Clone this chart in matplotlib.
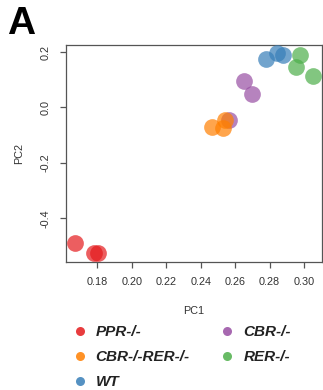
import matplotlib
matplotlib.use("Agg")
import matplotlib.pyplot as plt
from matplotlib.lines import Line2D

plt.rcParams['font.family'] = ['Liberation Sans', 'DejaVu Sans']

groups = ["PPR-/-", "CBR-/-RER-/-", "WT", "CBR-/-", "RER-/-"]
colors = ["#E41A1C", "#FF7F00", "#377EB8", "#984EA3", "#4DAF4A"]
pc1 = {
    "PPR-/-": [0.1671, 0.1783, 0.1806],
    "CBR-/-": [0.2566, 0.2652, 0.2698],
    "CBR-/-RER-/-": [0.2466, 0.2531, 0.2543],
    "WT": [0.2779, 0.2845, 0.2876],
    "RER-/-": [0.2977, 0.2954, 0.3050],
}
pc2 = {
    "PPR-/-": [-0.488, -0.527, -0.527],
    "CBR-/-": [-0.0455, 0.0964, 0.0484],
    "CBR-/-RER-/-": [-0.072, -0.0755, -0.0455],
    "WT": [0.1747, 0.1953, 0.1892],
    "RER-/-": [0.1892, 0.1448, 0.1144],
}
draw_order = ["PPR-/-", "CBR-/-", "CBR-/-RER-/-", "WT", "RER-/-"]
xticks = [0.18, 0.20, 0.22, 0.24, 0.26, 0.28, 0.30]
yticks = [-0.4, -0.2, 0.0, 0.2]

fig = plt.figure(figsize=(3.23, 3.90), dpi=100)
ax = fig.add_axes([66/323, 1-261.7/390, (322-66)/323, (261.7-45)/390])
cmap = dict(zip(groups, colors))
for g in draw_order:
    ax.scatter(pc1[g], pc2[g], s=145, color=cmap[g], alpha=0.7, linewidths=0, zorder=3)

ax.set_xlim(0.1618, 0.3104)
ax.set_ylim(-0.5567, 0.2253)
ax.set_xticks(xticks)
ax.set_xticklabels([f"{v:.2f}" for v in xticks])
ax.set_yticks(yticks)
ax.set_yticklabels([f"{v:.1f}" for v in yticks], rotation=90, va='center')
for s in ax.spines.values():
    s.set_color('#555555')
    s.set_linewidth(0.9)
ax.tick_params(direction='out', length=4.3, width=0.9, color='#555555',
               labelsize=7.8, labelcolor='#333333', pad=7)
ax.set_xlabel("PC1", fontsize=7.8, color='#333333', labelpad=13.5)
ax.set_ylabel("PC2", fontsize=7.8, color='#333333', labelpad=12)

fig.text(7/323, 1-34/390, "A", fontsize=28, fontweight='bold', ha='left', va='baseline')

handles = [Line2D([], [], linestyle='none', marker='o', markersize=6.5,
                  markerfacecolor=c, markeredgewidth=0, alpha=0.85) for c in colors]
leg = fig.legend(handles, groups, ncol=2, loc='upper left',
                 bbox_to_anchor=(72/323, 1-325/390), frameon=False,
                 prop={'size': 11, 'weight': 'bold', 'style': 'italic'},
                 handlelength=1.0, handletextpad=0.55, columnspacing=1.95,
                 labelspacing=0.72, borderpad=0, borderaxespad=0)
for t in leg.get_texts():
    t.set_color('#222222')

fig.savefig("out.png", dpi=100)
